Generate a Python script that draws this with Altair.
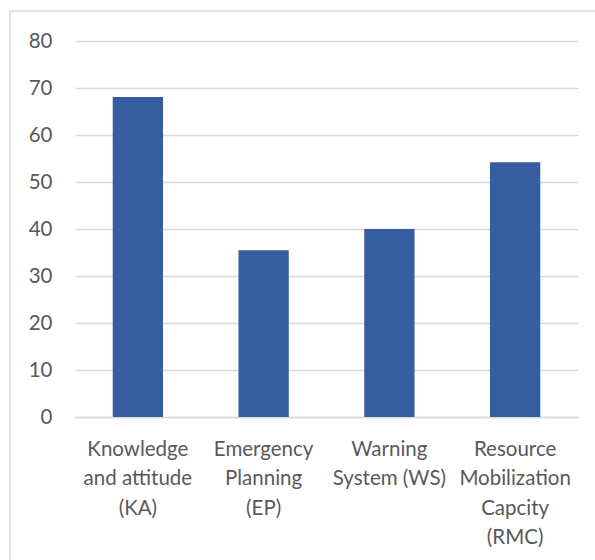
import altair as alt
import pandas as pd

categories = [
    "Knowledge and attitude (KA)",
    "Emergency Planning (EP)",
    "Warning System (WS)",
    "Resource Mobilization Capcity (RMC)",
]
label_lines = [
    "Knowledge|and attitude|(KA)",
    "Emergency|Planning|(EP)",
    "Warning|System (WS)",
    "Resource|Mobilization|Capcity|(RMC)",
]
values = [68.1, 35.5, 40.0, 54.2]

df = pd.DataFrame({"cat": categories, "val": values, "lab": label_lines})

label_map = "{" + ",".join(f'"{c}":"{l}"' for c, l in zip(categories, label_lines)) + "}"

FONT = "Lato"
TXT = "#595959"
GRID = "#D9D9D9"
FS = 20.5

bars = alt.Chart(df).mark_bar(color="#355D9F").encode(
    x=alt.X(
        "cat:N",
        sort=categories,
        title=None,
        scale=alt.Scale(paddingInner=0.6, paddingOuter=0.3),
        axis=alt.Axis(
            labelAngle=0,
            labelExpr=f"split({label_map}[datum.label], '|')",
            labelFont=FONT,
            labelFontSize=FS,
            labelColor=TXT,
            labelLineHeight=29.5,
            labelPadding=22,
            labelBaseline="top",
            ticks=False,
            domain=True,
            domainColor=GRID,
            domainWidth=1.5,
            grid=False,
            labelLimit=200,
        ),
    ),
    y=alt.Y(
        "val:Q",
        title=None,
        scale=alt.Scale(domain=[0, 80]),
        axis=alt.Axis(
            values=[0, 10, 20, 30, 40, 50, 60, 70, 80],
            labelFont=FONT,
            labelFontSize=FS,
            labelColor=TXT,
            labelPadding=23,
            ticks=False,
            domain=False,
            gridColor=GRID,
            gridWidth=1.5,
        ),
    ),
)

border = alt.Chart(pd.DataFrame({"a": [0]})).mark_rect(
    fill=None, stroke=GRID, strokeWidth=1.5
).encode(
    x=alt.value(-65), x2=alt.value(540), y=alt.value(-30), y2=alt.value(600)
)

chart = alt.layer(border, bars).properties(
    width=503,
    height=376,
    padding={"left": 75, "top": 41, "right": 17, "bottom": 143},
    autosize=alt.AutoSizeParams(type="none"),
    background="white",
).configure_view(stroke=None)

chart.save("out.html", embed_options={"renderer": "svg", "actions": False})
